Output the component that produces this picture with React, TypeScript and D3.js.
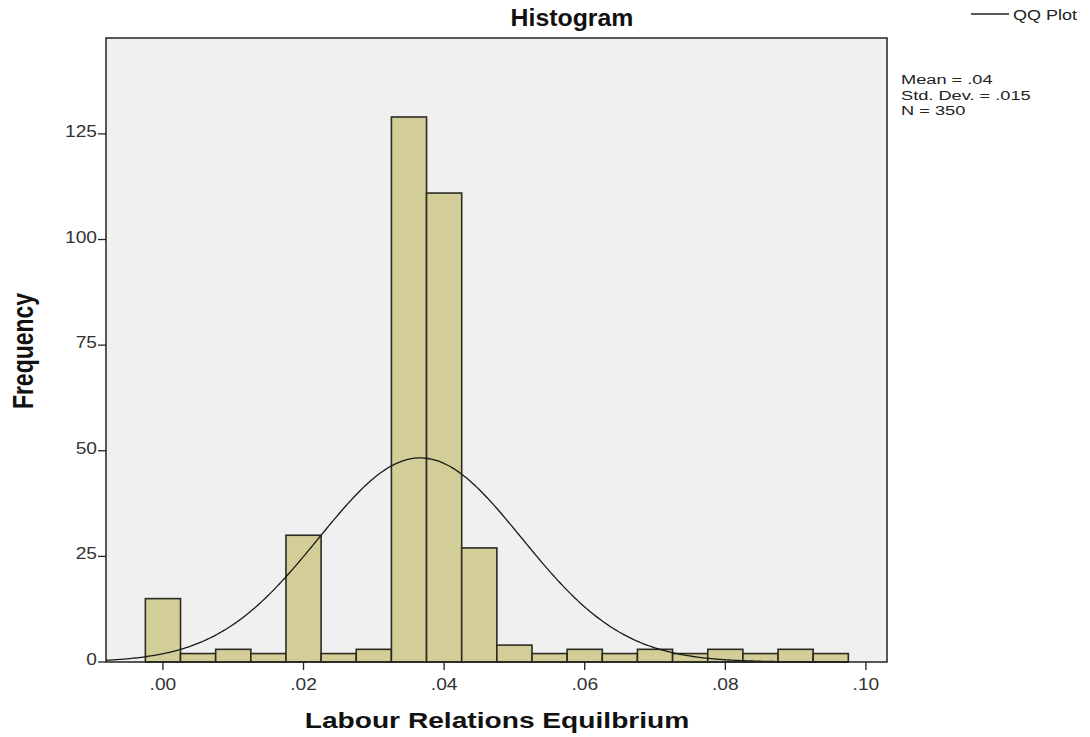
import React, { useEffect, useRef } from "react";
import * as d3 from "d3";

// Histogram bins (lower edge, width .005) and their counts
const binStart = -0.0025;
const binWidth = 0.005;
const counts = [15, 2, 3, 2, 30, 2, 3, 129, 111, 27, 4, 2, 3, 2, 3, 2, 3, 2, 3, 2];

const xTicks = [0, 0.02, 0.04, 0.06, 0.08, 0.1];
const yTicks = [0, 25, 50, 75, 100, 125];
const statLines = ["Mean = .04", "Std. Dev. = .015", "N = 350"];

// Normal curve parameters
const curveMean = 0.0366;
const curveSd = 0.01445;
const nTotal = 350;

const W = 1090;
const H = 737;
const plot = { left: 106, right: 887, top: 38, bottom: 662 };
const FONT = "Arial, 'Liberation Sans', sans-serif";
const SX = 1.2; // horizontal stretch applied to all text

export default function App() {
  const ref = useRef<SVGSVGElement>(null);

  useEffect(() => {
    const svg = d3.select(ref.current!);
    svg.selectAll("*").remove();

    const x = d3.scaleLinear().domain([-0.0081, 0.103]).range([plot.left, plot.right]);
    const y = d3.scaleLinear().domain([0, 147.7]).range([plot.bottom, plot.top]);

    const label = (
      px: number,
      py: number,
      txt: string,
      size: number,
      anchor: string,
      opts: { bold?: boolean; fill?: string; sx?: number; rotate?: boolean } = {}
    ) => {
      const sx = opts.sx ?? SX;
      svg
        .append("text")
        .attr(
          "transform",
          `translate(${px},${py}) scale(${sx},1)` + (opts.rotate ? " rotate(-90)" : "")
        )
        .attr("text-anchor", anchor)
        .attr("font-family", FONT)
        .attr("font-size", size)
        .attr("font-weight", opts.bold ? "bold" : "normal")
        .attr("fill", opts.fill ?? "#222")
        .text(txt);
    };

    svg.append("rect").attr("width", W).attr("height", H).attr("fill", "#ffffff");

    svg
      .append("rect")
      .attr("x", plot.left)
      .attr("y", plot.top)
      .attr("width", plot.right - plot.left)
      .attr("height", plot.bottom - plot.top)
      .attr("fill", "#f0f0f0");

    const bins = counts.map((c, i) => ({ x0: binStart + i * binWidth, x1: binStart + (i + 1) * binWidth, c }));

    svg
      .append("g")
      .selectAll("rect")
      .data(bins)
      .join("rect")
      .attr("x", (d) => x(d.x0))
      .attr("y", (d) => y(d.c))
      .attr("width", (d) => x(d.x1) - x(d.x0))
      .attr("height", (d) => y(0) - y(d.c))
      .attr("fill", "#d3ce97")
      .attr("stroke", "#2b2b22")
      .attr("stroke-width", 1.6);

    // Normal curve scaled to counts
    const xs = d3.range(0, 401).map((i) => -0.0081 + (i / 400) * (0.103 + 0.0081));
    const dens = (v: number) =>
      (nTotal * binWidth) / (curveSd * Math.sqrt(2 * Math.PI)) *
      Math.exp(-((v - curveMean) ** 2) / (2 * curveSd * curveSd));
    const line = d3
      .line<number>()
      .x((v) => x(v))
      .y((v) => y(dens(v)))
      .curve(d3.curveBasis);
    svg
      .append("path")
      .attr("d", line(xs.filter((v) => v <= 0.0975))!)
      .attr("fill", "none")
      .attr("stroke", "#1a1a1a")
      .attr("stroke-width", 1.3);

    // Frame
    svg
      .append("rect")
      .attr("x", plot.left)
      .attr("y", plot.top)
      .attr("width", plot.right - plot.left)
      .attr("height", plot.bottom - plot.top)
      .attr("fill", "none")
      .attr("stroke", "#222")
      .attr("stroke-width", 1.5);

    // Y axis ticks
    yTicks.forEach((t) => {
      svg
        .append("line")
        .attr("x1", plot.left - 8)
        .attr("x2", plot.left)
        .attr("y1", y(t))
        .attr("y2", y(t))
        .attr("stroke", "#222")
        .attr("stroke-width", 1.3);
      label(plot.left - 9, y(t) + 3, String(t), 16, "end", { fill: "#333" });
    });

    // X axis ticks
    xTicks.forEach((t) => {
      svg
        .append("line")
        .attr("x1", x(t))
        .attr("x2", x(t))
        .attr("y1", plot.bottom)
        .attr("y2", plot.bottom + 8)
        .attr("stroke", "#222")
        .attr("stroke-width", 1.3);
      label(x(t), plot.bottom + 28, d3.format(".2f")(t).replace(/^0/, ""), 16, "middle", { fill: "#333" });
    });

    // Title and axis titles
    label(572, 26, "Histogram", 23, "middle", { bold: true, fill: "#111", sx: 1.08 });
    label(497, 728, "Labour Relations Equilbrium", 22, "middle", { bold: true, fill: "#111", sx: 1.28 });
    label(33, 351, "Frequency", 23, "middle", { bold: true, fill: "#111", sx: 1.25, rotate: true });

    // Legend
    svg
      .append("line")
      .attr("x1", 971)
      .attr("x2", 1009)
      .attr("y1", 14)
      .attr("y2", 14)
      .attr("stroke", "#222")
      .attr("stroke-width", 1.3);
    label(1013, 20, "QQ Plot", 15, "start");

    // Summary statistics
    statLines.forEach((s, i) => {
      label(901, 84 + i * 15.5, s, 13.5, "start", { sx: 1.35 });
    });
  }, []);

  return (
    <svg
      ref={ref}
      width={W}
      height={H}
      style={{ position: "absolute", left: 0, top: 0, display: "block" }}
    />
  );
}
